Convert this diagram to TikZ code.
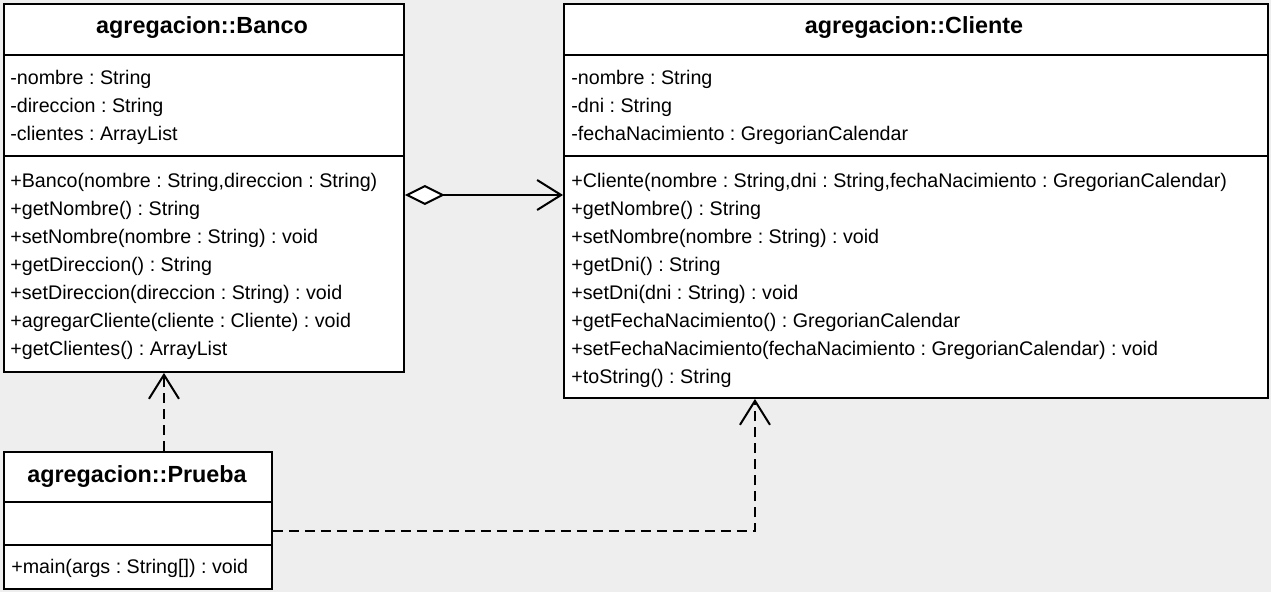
\documentclass[tikz,border=0pt]{standalone}
\usepackage{fontspec}
\setmainfont{Liberation Sans}
\usetikzlibrary{arrows.meta,positioning}
\definecolor{bggray}{HTML}{EEEEEE}
\frenchspacing

\tikzset{
  classbox/.style={draw, fill=white, line width=0.04cm, anchor=north west, inner sep=0pt},
  classname/.style={font=\bfseries\fontsize{13.3}{15}\selectfont, inner sep=0pt},
  member/.style={anchor=base west, inner sep=0pt, font=\fontsize{11.2}{13}\selectfont},
  sepline/.style={line width=0.04cm},
  agg/.style={line width=0.04cm, {Diamond[open, fill=white, length=0.8cm, width=0.4cm]}-{Straight Barb[length=0.48cm, width=0.6cm]}},
  dep/.style={line width=0.04cm, dash pattern=on 0.2cm off 0.12cm, -{Straight Barb[length=0.48cm, width=0.6cm]}},
}

\begin{document}
\begin{tikzpicture}[x=0.02cm, y=-0.02cm]
% background
\fill[bggray] (0,0) rectangle (1271,592);
\useasboundingbox (0,0) rectangle (1271,592);

% class boxes
\node[classbox, minimum width=8cm, minimum height=7.36cm] (banco) at (3,3) {};
\node[classbox, minimum width=14.08cm, minimum height=7.88cm] (cliente) at (563,3) {};
\node[classbox, minimum width=5.36cm, minimum height=2.74cm] (prueba) at (3,451) {};

% compartments
\draw[sepline] (banco.west |- 0,55) -- (banco.east |- 0,55);
\draw[sepline] (banco.west |- 0,156) -- (banco.east |- 0,156);
\draw[sepline] (cliente.west |- 0,55) -- (cliente.east |- 0,55);
\draw[sepline] (cliente.west |- 0,156) -- (cliente.east |- 0,156);
\draw[sepline] (prueba.west |- 0,502) -- (prueba.east |- 0,502);
\draw[sepline] (prueba.west |- 0,545) -- (prueba.east |- 0,545);

% class names
\node[classname] (banconame) at (202,28) {agregacion::Banco};
\node[classname] (clientename) at (914,28) {agregacion::Cliente};
\node[classname] (pruebaname) at (137,477) {agregacion::Prueba};

% Banco members
\foreach \t [count=\i from 0] in {{-nombre : String}, {-direccion : String}, {-clientes : ArrayList}}
  \node[member] (ba\i) at (10,84+28*\i) {\t};
\foreach \t [count=\i from 0] in {{+Banco(nombre : String,direccion : String)}, {+getNombre() : String},
    {+setNombre(nombre : String) : void}, {+getDireccion() : String},
    {+setDireccion(direccion : String) : void}, {+agregarCliente(cliente : Cliente) : void},
    {+getClientes() : ArrayList}}
  \node[member] (bm\i) at (10,187+28*\i) {\t};

% Cliente members
\foreach \t [count=\i from 0] in {{-nombre : String}, {-dni : String}, {-fechaNacimiento : GregorianCalendar}}
  \node[member] (ca\i) at (571,84+28*\i) {\t};
\foreach \t [count=\i from 0] in {{+Cliente(nombre : String,dni : String,fechaNacimiento : GregorianCalendar)},
    {+getNombre() : String}, {+setNombre(nombre : String) : void}, {+getDni() : String},
    {+setDni(dni : String) : void}, {+getFechaNacimiento() : GregorianCalendar},
    {+setFechaNacimiento(fechaNacimiento : GregorianCalendar) : void}, {+toString() : String}}
  \node[member] (cm\i) at (571,187+28*\i) {\t};

% Prueba members
\node[member] (pm0) at (11,573) {+main(args : String[]) : void};

% relations
\draw[agg] (banco.east |- 0,195) -- (cliente.west |- 0,195);
\draw[dep] ([xshift=0.52cm]prueba.north) -- ([xshift=0.52cm]prueba.north |- banco.south);
\draw[dep] ([yshift=-0.21cm]prueba.east) -| ([xshift=3.84cm]cliente.south west);
\end{tikzpicture}
\end{document}
